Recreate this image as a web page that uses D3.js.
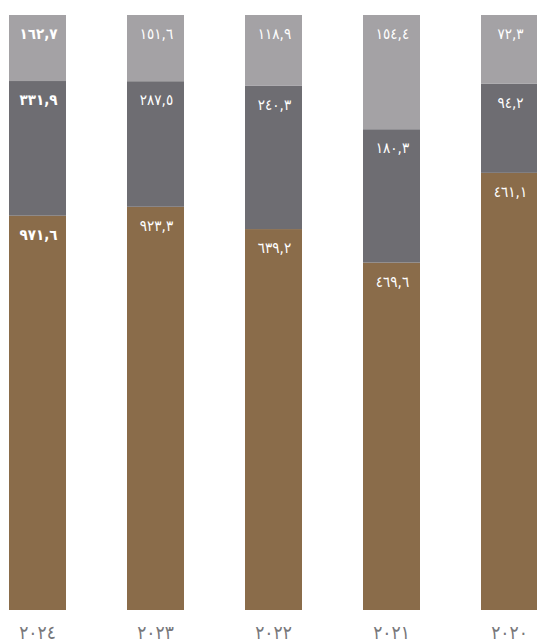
<!DOCTYPE html>
<html>
<head>
<meta charset="utf-8">
<script src="https://cdn.jsdelivr.net/npm/d3@7"></script>
<style>
html,body{margin:0;padding:0;background:#fff;overflow:hidden;}
svg{display:block;}
</style>
</head>
<body>
<svg id="chart" width="537" height="642"></svg>
<script>
const categories = ["٢٠٢٤", "٢٠٢٣", "٢٠٢٢", "٢٠٢١", "٢٠٢٠"];
const bottomValues = [971.6, 923.3, 639.2, 469.6, 461.1];
const middleValues = [331.9, 287.5, 240.3, 180.3, 94.2];
const topValues = [162.7, 151.6, 118.9, 154.4, 72.3];
const seriesKeys = ["bottom", "middle", "top"];
const seriesColors = ["#8a6c4a", "#6e6d72", "#a4a2a5"];

const rows = categories.map((c, i) => ({
  cat: c,
  bottom: bottomValues[i], middle: middleValues[i], top: topValues[i]
}));

const svg = d3.select("#chart");

const x = d3.scaleBand().domain(categories).range([9, 9 + 118 * 5 - 61]).paddingInner(61 / 118).paddingOuter(0);
const y = d3.scaleLinear().domain([0, 1]).range([610, 15]);

const stacked = d3.stack().keys(seriesKeys).offset(d3.stackOffsetExpand)(rows);

const toAr = s => s.replace(/[0-9]/g, d => "٠١٢٣٤٥٦٧٨٩"[+d]).replace(".", ",");
const fmt = v => toAr(d3.format(".1f")(v));
const FONT = "'DejaVu Sans Condensed', 'DejaVu Sans', sans-serif";

const g = svg.append("g");
stacked.forEach((layer, li) => {
  g.append("g").attr("fill", seriesColors[li])
    .selectAll("rect").data(layer).enter().append("rect")
    .attr("x", d => x(d.data.cat))
    .attr("width", x.bandwidth())
    .attr("y", d => y(d[1]))
    .attr("height", d => y(d[0]) - y(d[1]));
});
stacked.forEach((layer) => {
  g.append("g").selectAll("text").data(layer).enter().append("text")
    .attr("x", d => x(d.data.cat) + x.bandwidth() / 2 + 1)
    .attr("y", d => y(d[1]) + 24)
    .attr("text-anchor", "middle")
    .attr("fill", "#ffffff")
    .attr("font-family", FONT)
    .attr("font-size", 15)
    .attr("font-weight", (d, i) => i === 0 ? "bold" : "normal")
    .text(d => fmt(d.data[layer.key]));
});

svg.append("g").selectAll("text").data(categories).enter().append("text")
  .attr("x", d => x(d) + x.bandwidth() / 2)
  .attr("y", 639)
  .attr("text-anchor", "middle")
  .attr("fill", "#77777a")
  .attr("font-family", FONT)
  .attr("font-size", 19)
  .text(d => d);
</script>
</body>
</html>
